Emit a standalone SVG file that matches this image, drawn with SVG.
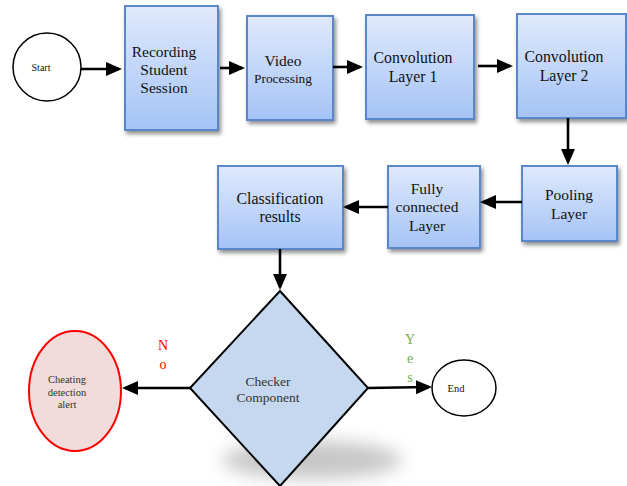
<svg xmlns="http://www.w3.org/2000/svg" width="627" height="486" viewBox="0 0 627 486" font-family="'Liberation Serif', 'Times New Roman', Times, serif">
<defs>
<linearGradient id="boxg" x1="0" y1="0" x2="0" y2="1">
<stop offset="0" stop-color="#dfeafc"/>
<stop offset="1" stop-color="#a5c3f6"/>
</linearGradient>
<filter id="sh" x="-20%" y="-20%" width="150%" height="150%">
<feGaussianBlur in="SourceAlpha" stdDeviation="2"/>
<feOffset dx="2" dy="3" result="b"/>
<feComponentTransfer><feFuncA type="linear" slope="0.45"/></feComponentTransfer>
<feMerge><feMergeNode/><feMergeNode in="SourceGraphic"/></feMerge>
</filter>
<filter id="blur" x="-50%" y="-100%" width="200%" height="300%">
<feGaussianBlur stdDeviation="9"/>
</filter>
<marker id="ah" markerUnits="userSpaceOnUse" markerWidth="17" markerHeight="15" refX="13" refY="7" orient="auto">
<path d="M0,0 L16,7 L0,14 Z" fill="#000"/>
</marker>
<style>
.box{fill:url(#boxg);stroke:#5a87c9;stroke-width:2;filter:url(#sh)}
.t{font-family:'Liberation Serif','Times New Roman',Times,serif;text-anchor:middle}
.k{fill:#111}
.g{fill:#333}
.r{fill:#ff0000}
.y{fill:#70ad47}
.c{stroke:#000;stroke-width:2.6;fill:none;marker-end:url(#ah)}
</style>
</defs>

<ellipse cx="312" cy="460" rx="90" ry="19" fill="#999" opacity="0.55" filter="url(#blur)"/>

<g id="start">
<circle cx="47" cy="67" r="34" fill="#fff" stroke="#000" stroke-width="1.5"/>
<text class="t k" x="41" y="71" font-size="10">Start</text>
</g>

<g id="recording">
<rect class="box" x="125" y="6" width="93" height="124"/>
<text class="t k" x="164" y="57" font-size="15.5">Recording</text>
<text class="t k" x="164" y="75" font-size="15.5">Student</text>
<text class="t k" x="164" y="93" font-size="15.5">Session</text>
</g>

<g id="video">
<rect class="box" x="247" y="16" width="86" height="104"/>
<text class="t k" x="283" y="66" font-size="15.5">Video</text>
<text class="t k" x="283" y="83" font-size="13.4">Processing</text>
</g>

<g id="conv1">
<rect class="box" x="366" y="15" width="108" height="104"/>
<text class="t k" x="413" y="63" font-size="15.8">Convolution</text>
<text class="t k" x="413" y="82" font-size="15.8">Layer 1</text>
</g>

<g id="conv2">
<rect class="box" x="517" y="14" width="109" height="104"/>
<text class="t k" x="564" y="62" font-size="15.8">Convolution</text>
<text class="t k" x="564" y="81" font-size="15.8">Layer 2</text>
</g>

<g id="pooling">
<rect class="box" x="522" y="166" width="95" height="75"/>
<text class="t k" x="569" y="200" font-size="15.5">Pooling</text>
<text class="t k" x="569" y="219" font-size="15.5">Layer</text>
</g>

<g id="fully">
<rect class="box" x="388" y="166" width="92" height="82"/>
<text class="t k" x="427" y="194" font-size="15.5">Fully</text>
<text class="t k" x="427" y="212" font-size="15.5">connected</text>
<text class="t k" x="427" y="231" font-size="15.5">Layer</text>
</g>

<g id="classification">
<rect class="box" x="218" y="166" width="125" height="83"/>
<text class="t k" x="280" y="204" font-size="15.8">Classification</text>
<text class="t k" x="280" y="222" font-size="15.8">results</text>
</g>

<g id="checker">
<polygon points="280,291 368,388 280,486 190,388" fill="#c5d8ef" stroke="#000" stroke-width="2"/>
<text class="t g" x="268" y="386" font-size="13.5">Checker</text>
<text class="t g" x="268" y="402" font-size="13.5">Component</text>
</g>

<g id="cheating">
<ellipse cx="75" cy="391" rx="46" ry="60" fill="#f2dbdb" stroke="#ff0000" stroke-width="2"/>
<text class="t g" x="67" y="383" font-size="10.5">Cheating</text>
<text class="t g" x="67" y="396" font-size="10.5">detection</text>
<text class="t g" x="67" y="408" font-size="10.5">alert</text>
</g>

<g id="end">
<ellipse cx="464" cy="388" rx="32" ry="28" fill="#fff" stroke="#000" stroke-width="1.5"/>
<text class="t k" x="456" y="392" font-size="10.5">End</text>
</g>

<g id="connectors">
<line class="c" x1="81" y1="69" x2="119" y2="69"/>
<line class="c" x1="220" y1="68" x2="242" y2="68"/>
<line class="c" x1="333" y1="67" x2="360" y2="67"/>
<line class="c" x1="478" y1="66" x2="510" y2="66"/>
<line class="c" x1="568" y1="118" x2="568" y2="162"/>
<line class="c" x1="522" y1="202" x2="483" y2="202"/>
<line class="c" x1="388" y1="207" x2="346" y2="207"/>
<line class="c" x1="280" y1="249" x2="280" y2="287"/>
<line class="c" x1="190" y1="388" x2="125" y2="388"/>
<line class="c" x1="368" y1="388" x2="429" y2="387"/>
<text class="t r" x="163" y="350" font-size="14">N</text>
<text class="t r" x="163" y="369" font-size="14">o</text>
<text class="t y" x="410" y="344" font-size="14">Y</text>
<text class="t y" x="410" y="363" font-size="14">e</text>
<text class="t y" x="410" y="382" font-size="14">s</text>
</g>
</svg>
